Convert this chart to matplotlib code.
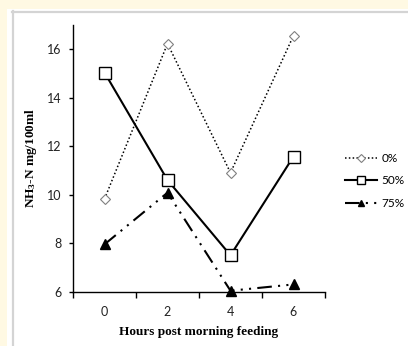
import matplotlib
matplotlib.use("Agg")
import matplotlib.pyplot as plt
from matplotlib.patches import Rectangle
from matplotlib.lines import Line2D

hours = ["0", "2", "4", "6"]
series_names = ["0%", "50%", "75%"]
vals_0 = [9.82, 16.22, 10.9, 16.55]
vals_50 = [15.03, 10.6, 7.5, 11.57]
vals_75 = [7.95, 10.08, 6.04, 6.3]

plt.rcParams["mathtext.fontset"] = "custom"
plt.rcParams["mathtext.rm"] = "Liberation Serif:bold"
plt.rcParams["mathtext.bf"] = "Liberation Serif:bold"
plt.rcParams["mathtext.it"] = "Liberation Serif:bold"

W, H = 408, 346
fig = plt.figure(figsize=(W / 100, H / 100), dpi=100)
fig.patch.set_facecolor("#FFF9E3")

def px(x, y):
    return x / W, 1 - y / H

# white panel with grey border
fig.add_artist(Rectangle(px(7, 346), (W - 7) / W, (346 - 9) / H,
                         transform=fig.transFigure, facecolor="white", edgecolor="none", zorder=-10))
fig.add_artist(Line2D([12.5 / W, 12.5 / W], [1 - 11 / H, 0], transform=fig.transFigure,
                      color="#D4D4D4", lw=1.6, zorder=-9))
fig.add_artist(Line2D([12 / W, 1], [1 - 11.5 / H, 1 - 11.5 / H], transform=fig.transFigure,
                      color="#D4D4D4", lw=1.6, zorder=-9))

left, right, top, bottom = 73, 325, 24.7, 291.7
ax = fig.add_axes([left / W, 1 - bottom / H, (right - left) / W, (bottom - top) / H])
ax.set_facecolor("none")

x = list(range(len(hours)))
ax.plot(x, vals_0, color="black", lw=1.1, linestyle=(0, (1, 1.5)), marker="D", ms=5.5,
        mfc="white", mec="#808080", mew=0.8, label=series_names[0], clip_on=False)
ax.plot(x, vals_50, color="black", lw=1.5, linestyle="-", marker="s", ms=8,
        mfc="white", mec="black", mew=1.0, label=series_names[1], clip_on=False)
ax.plot(x, vals_75, color="black", lw=1.5, linestyle=(0, (7, 3, 1, 3, 1, 3)), marker="^", ms=7,
        mfc="black", mec="black", label=series_names[2], clip_on=False)

ax.set_xlim(-0.5, 3.5)
ax.set_ylim(6, 17)
ax.set_yticks([6, 8, 10, 12, 14, 16])
ax.set_xticks([-0.5, 0.5, 1.5, 2.5, 3.5])
ax.set_xticklabels([])
ax.set_xticks(x, minor=True)
ax.set_xticklabels(hours, minor=True)
ax.tick_params(axis="x", which="major", direction="out", length=4, width=1, color="black")
ax.tick_params(axis="x", which="minor", length=0, pad=10, labelsize=9, labelcolor="#222222")
ax.tick_params(axis="y", direction="out", length=3, width=1, pad=5, labelsize=9, labelcolor="#222222")
for lab in ax.get_xticklabels(minor=True) + ax.get_yticklabels():
    lab.set_fontfamily("Lato")

for s in ["top", "right"]:
    ax.spines[s].set_visible(False)
for s in ["left", "bottom"]:
    ax.spines[s].set_color("black")
    ax.spines[s].set_linewidth(1.0)

ax.set_xlabel("Hours post morning feeding", fontfamily="Liberation Serif", fontweight="bold",
              fontsize=9.5, labelpad=6)
ax.set_ylabel(r"NH$_{3}$-N mg/100ml", fontfamily="Liberation Serif", fontweight="bold",
              fontsize=9.5, labelpad=6)

leg = fig.legend(*ax.get_legend_handles_labels(), loc="center left",
                 bbox_to_anchor=(345 / W, 1 - 181 / H), bbox_transform=fig.transFigure,
                 frameon=False, prop={"family": "Lato", "size": 8.5}, handlelength=2.7,
                 handletextpad=0.4, labelspacing=0.95, borderpad=0, borderaxespad=0,
                 markerscale=0.7)

fig.savefig("out.png", dpi=100, facecolor=fig.get_facecolor())
